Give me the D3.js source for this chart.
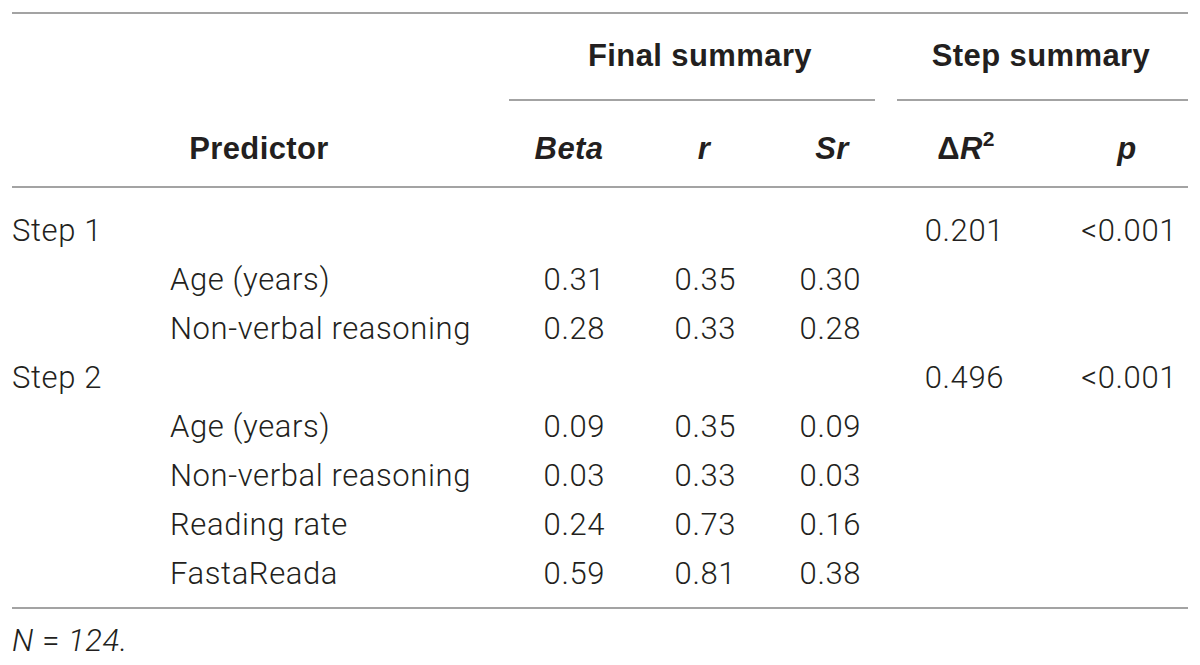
<!DOCTYPE html>
<html>
<head>
<meta charset="utf-8">
<script src="https://cdn.jsdelivr.net/npm/d3@7"></script>
<style>
  body { margin: 0; background: #fff; }
  text { fill: #231f20; }
</style>
</head>
<body>
<div id="chart"></div>
<script>
// table content
const stepLabels = ["Step 1", "Step 2"];
const stepDeltaR2 = ["0.201", "0.496"];
const stepP = ["<0.001", "<0.001"];
const step1Predictors = ["Age (years)", "Non-verbal reasoning"];
const step1Beta = ["0.31", "0.28"];
const step1R = ["0.35", "0.33"];
const step1Sr = ["0.30", "0.28"];
const step2Predictors = ["Age (years)", "Non-verbal reasoning", "Reading rate", "FastaReada"];
const step2Beta = ["0.09", "0.03", "0.24", "0.59"];
const step2R = ["0.35", "0.33", "0.73", "0.81"];
const step2Sr = ["0.09", "0.03", "0.16", "0.38"];
const groupHeaders = ["Final summary", "Step summary"];
const columnKeys = ["predictor", "beta", "r", "sr", "dr2", "p"];

// build flat row list
let rows = [];
let addStep = (i, preds, beta, r, sr) => {
    rows.push({type: "step", label: stepLabels[i], dr2: stepDeltaR2[i], p: stepP[i]});
    preds.forEach((d, j) => {
        rows.push({type: "pred", predictor: d, beta: beta[j], r: r[j], sr: sr[j]});
    });
};
addStep(0, step1Predictors, step1Beta, step1R, step1Sr);
addStep(1, step2Predictors, step2Beta, step2R, step2Sr);

let width = 1200;
let height = 665;
let bodyFont = "Roboto, 'Liberation Sans', sans-serif";
let headFont = "'Liberation Sans', Arial, sans-serif";
let fs = 31;
let hfs = 31;
let spacing = "0.6px";

let svg = d3.select("#chart")
    .append("svg")
    .attr("width", width)
    .attr("height", height);

let y = d3.scalePoint()
    .domain(d3.range(rows.length))
    .range([230, 573]);

// header centres and value edges
let headX = d3.scaleOrdinal().domain(columnKeys).range([259, 569, 704, 832, 966, 1127]);
let valX = d3.scaleOrdinal().domain(columnKeys).range([170, 605, 736, 861, 1004, 1177]);

let rule = (x1, x2, yy) => svg.append("line")
    .attr("x1", x1).attr("x2", x2)
    .attr("y1", yy).attr("y2", yy)
    .attr("stroke", "#a3a3a3")
    .attr("stroke-width", 2);

rule(12, 1188, 13);
rule(509, 875, 100);
rule(897, 1188, 100);
rule(12, 1188, 187);
rule(12, 1188, 608);

// group headers
svg.selectAll(".group")
    .data(groupHeaders)
    .enter()
    .append("text")
    .attr("class", "group")
    .attr("x", (d, i) => [700, 1041][i])
    .attr("y", 55)
    .attr("dy", "0.35em")
    .attr("text-anchor", "middle")
    .attr("font-family", headFont)
    .attr("font-weight", "bold")
    .attr("font-size", hfs)
    .attr("letter-spacing", "0.4px")
    .text(d => d);

// column headers
let hy = 148;
let head = (key, fn) => {
    let t = svg.append("text")
        .attr("x", headX(key))
        .attr("y", hy)
        .attr("dy", "0.35em")
        .attr("text-anchor", "middle")
        .attr("font-family", headFont)
        .attr("font-weight", "bold")
        .attr("font-size", hfs)
        .attr("letter-spacing", "0.4px");
    fn(t);
};
head("predictor", t => t.text("Predictor"));
head("beta", t => t.attr("font-style", "italic").text("Beta"));
head("r", t => t.attr("font-style", "italic").text("r"));
head("sr", t => t.attr("font-style", "italic").text("Sr"));
head("dr2", t => {
    t.append("tspan").text("\u0394");
    t.append("tspan").attr("font-style", "italic").text("R");
    t.append("tspan").attr("font-size", hfs * 0.68).attr("dy", "-0.6em").text("2");
});
head("p", t => t.attr("font-style", "italic").text("p"));

// body
let body = svg.selectAll(".row")
    .data(rows)
    .enter()
    .append("g")
    .attr("class", "row")
    .attr("transform", (d, i) => "translate(0," + y(i) + ")");

let cell = (sel, x, anchor, txt) => sel.append("text")
    .attr("x", x)
    .attr("dy", "0.35em")
    .attr("text-anchor", anchor)
    .attr("font-family", bodyFont)
    .attr("font-weight", 300)
    .attr("font-size", fs)
    .attr("letter-spacing", spacing)
    .text(txt);

body.each(function (d) {
    let g = d3.select(this);
    if (d.type === "step") {
        cell(g, 12, "start", d.label);
        cell(g, valX("dr2"), "end", d.dr2);
        cell(g, valX("p"), "end", d.p);
    } else {
        cell(g, valX("predictor"), "start", d.predictor);
        cell(g, valX("beta"), "end", d.beta);
        cell(g, valX("r"), "end", d.r);
        cell(g, valX("sr"), "end", d.sr);
    }
});

// note
let nt = svg.append("text")
    .attr("x", 12)
    .attr("y", 640)
    .attr("dy", "0.35em")
    .attr("font-family", bodyFont)
    .attr("font-weight", 300)
    .attr("font-size", fs)
    .attr("letter-spacing", spacing);
nt.append("tspan").attr("font-style", "italic").text("N");
nt.append("tspan").text(" = ");
nt.append("tspan").attr("font-style", "italic").text("124.");
</script>
</body>
</html>
